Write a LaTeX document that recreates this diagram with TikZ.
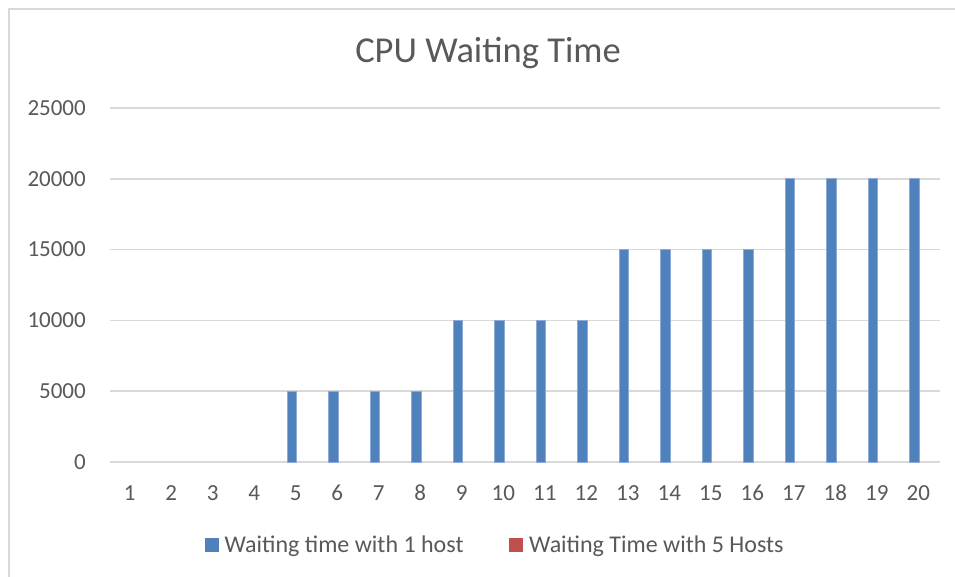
\documentclass[tikz,border=0pt]{standalone}
\usepackage{fontspec}
\setmainfont{Carlito}
\definecolor{seriesA}{HTML}{4F81BD}
\definecolor{seriesAedge}{HTML}{8EAAD6}
\definecolor{seriesB}{HTML}{C0504D}
\definecolor{gridgray}{HTML}{D9D9D9}
\definecolor{labelgray}{HTML}{595959}
\tikzset{
  chartframe/.style={draw=gridgray, line width=1.5pt},
  gridline/.style={draw=gridgray, line width=1.5pt},
  ticklabel/.style={text=labelgray, font=\fontsize{23}{27}\selectfont, inner sep=0pt},
  legendlabel/.style={text=labelgray, font=\fontsize{24}{28}\selectfont, inner sep=0pt},
  titlelabel/.style={text=labelgray, font=\fontsize{36.5}{44}\selectfont, inner sep=0pt},
  barA/.style={fill=seriesA, draw=seriesAedge, line width=0.6pt},
  keyA/.style={fill=seriesA, minimum size=14pt, inner sep=0pt},
  keyB/.style={fill=seriesB, minimum size=14pt, inner sep=0pt},
}
\begin{document}
\begin{tikzpicture}[x=1pt, y=-1pt]
  \useasboundingbox (0,0) rectangle (955,577);
  \fill[white] (0,0) rectangle (955,577);
  % outer chart frame (left and top edges inside the page)
  \draw[chartframe] (9,577) -- (9,9) -- (955,9);

  % title
  \node[titlelabel, anchor=base] (title) at (488,63) {CPU Waiting Time};

  % horizontal gridlines and value labels
  \foreach \k/\lab in {0/0,1/5000,2/10000,3/15000,4/20000,5/25000}{
    \pgfmathsetmacro{\yy}{462-70.8*\k}
    \draw[gridline] (110,\yy) -- (940,\yy);
    \node[ticklabel, anchor=east] (ylab\k) at (86,\yy) {\lab};
  }

  % bars of the first series, values in units of 5000
  % (the second series is zero everywhere)
  \foreach \v [count=\i] in {0,0,0,0,1,1,1,1,2,2,2,2,3,3,3,3,4,4,4,4}{
    \pgfmathsetmacro{\xc}{110+(\i-0.5)*41.5}
    \pgfmathsetmacro{\ytop}{462-\v*70.8}
    \ifnum\v>0
      \draw[barA] (\xc-9.9,462) rectangle (\xc,\ytop);
    \fi
    \node[ticklabel] (xlab\i) at (\xc-1,493) {\i};
  }

  % legend
  \node[keyA] (keyone) at (212,545) {};
  \node[legendlabel, anchor=base west] (legone) at (224.5,552) {Waiting time with 1 host};
  \node[keyB] (keytwo) at (516,545) {};
  \node[legendlabel, anchor=base west] (legtwo) at (529,552) {Waiting Time with 5 Hosts};
\end{tikzpicture}
\end{document}
